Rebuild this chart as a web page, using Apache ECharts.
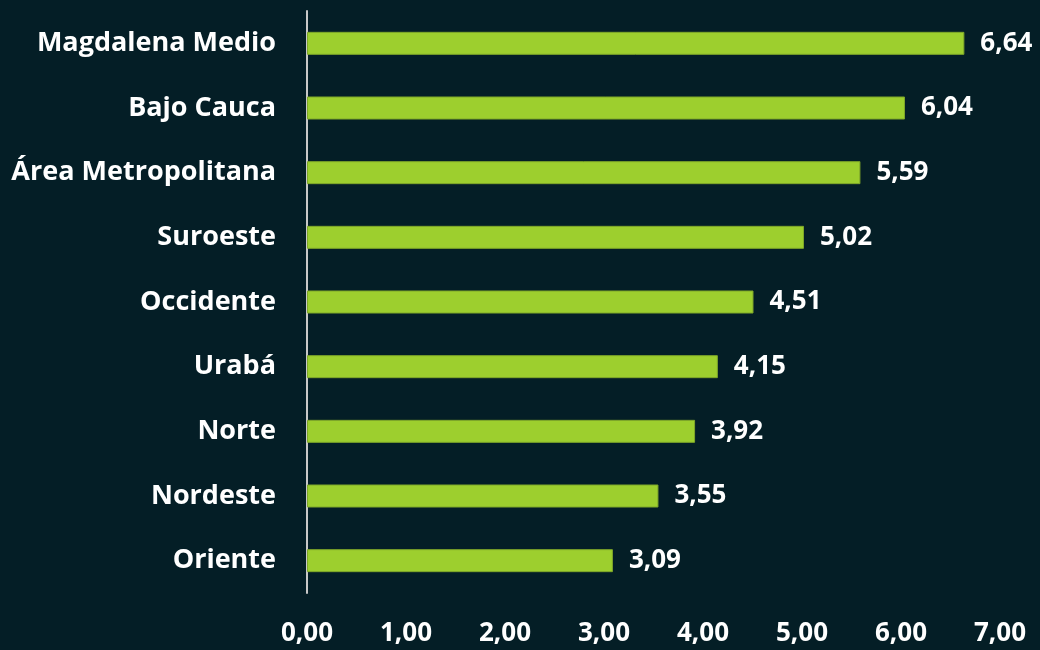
<!DOCTYPE html>
<html style="height: 100%">
  <head>
    <meta charset="utf-8" />
    <script src="https://cdn.jsdelivr.net/npm/echarts@6/dist/echarts.min.js"></script>
    <title>Regiones</title>
  </head>
  <body style="height: 100%; margin: 0; background: #041e26">
    <div id="container" style="width: 1040px; height: 650px"></div>
    <script type="text/javascript">
      // regions, bottom to top as echarts draws category axis
      const regions = ["Oriente", "Nordeste", "Norte", "Urabá", "Occidente",
        "Suroeste", "Área Metropolitana", "Bajo Cauca", "Magdalena Medio"];
      const values = [3.09, 3.55, 3.92, 4.15, 4.51, 5.02, 5.59, 6.04, 6.64];

      const fmt = (v) => v.toFixed(2).replace(".", ",");
      const font = "Open Sans";

      let chart = echarts.init(document.getElementById("container"));
      chart.setOption({
        backgroundColor: "#041e26",
        grid: { left: 307, right: 40, top: 11, bottom: 57 },
        xAxis: {
          type: "value",
          min: 0,
          max: 7,
          interval: 1,
          splitLine: { show: false },
          axisLine: { show: false },
          axisTick: { show: false },
          axisLabel: {
            color: "#ffffff",
            fontFamily: font,
            fontWeight: "bold",
            fontSize: 26,
            margin: 28,
            formatter: fmt
          }
        },
        yAxis: {
          type: "category",
          data: regions,
          axisLine: { lineStyle: { color: "#c8c8c8", width: 2 } },
          axisTick: { show: false },
          axisLabel: {
            color: "#ffffff",
            fontFamily: font,
            fontWeight: "bold",
            fontSize: 27,
            margin: 31
          }
        },
        series: [
          {
            type: "bar",
            data: values,
            barWidth: 23,
            itemStyle: { color: "#9dcf2e", borderColor: "#7fa829", borderWidth: 1 },
            label: {
              show: true,
              position: "right",
              distance: 16,
              color: "#ffffff",
              fontFamily: font,
              fontWeight: "bold",
              fontSize: 26,
              formatter: (p) => fmt(p.value)
            }
          }
        ]
      });
    </script>
  </body>
</html>
